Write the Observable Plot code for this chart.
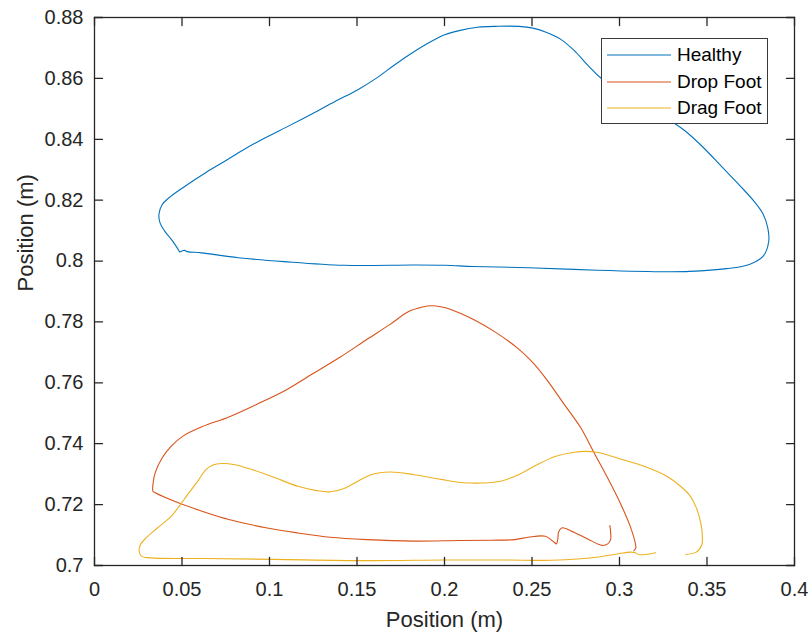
<!DOCTYPE html>
<html>
<head>
<meta charset="utf-8">
<script src="https://cdn.jsdelivr.net/npm/d3@7"></script>
<script src="https://cdn.jsdelivr.net/npm/@observablehq/plot@0.6"></script>
<style>
  html, body { margin: 0; padding: 0; background: #fff; }
  #wrap { position: relative; width: 808px; height: 638px; font-family: "Liberation Sans", Arial, sans-serif; }
  #legend { position: absolute; background: #fff; border: 1px solid #3a3a3a; box-sizing: border-box; }
  .row { display: flex; align-items: center; height: 26.7px; white-space: nowrap; }
  .row span { font-size: 19px; color: #000; margin-left: 6px; white-space: nowrap; }
</style>
</head>
<body>
<div id="wrap"></div>
<script>
const seriesNames = ["Healthy", "Drop Foot", "Drag Foot"];
const seriesColors = ["#0072BD", "#D95319", "#EDB120"];

const healthyX = [0.0487,0.0515,0.0530,0.0611,0.0821,0.1084,0.1426,0.1821,0.2005,0.2163,0.2479,0.2874,0.3268,0.3400,0.3611,0.3742,0.3821,0.3853,0.3847,0.3821,0.3768,0.3689,0.3584,0.3479,0.3374,0.3308,0.3110,0.2900,0.2821,0.2742,0.2663,0.2584,0.2505,0.2426,0.2295,0.2189,0.2084,0.2005,0.1926,0.1821,0.1716,0.1611,0.1505,0.1374,0.1242,0.1111,0.0979,0.0847,0.0742,0.0637,0.0505,0.0426,0.0387,0.0368,0.0374,0.0400,0.0439,0.0466,0.0487];
const healthyY = [0.8030,0.8035,0.8031,0.8027,0.8011,0.7998,0.7986,0.7987,0.7986,0.7982,0.7978,0.7970,0.7965,0.7966,0.7975,0.7989,0.8016,0.8066,0.8110,0.8154,0.8197,0.8247,0.8310,0.8373,0.8428,0.8455,0.8526,0.8598,0.8642,0.8691,0.8729,0.8751,0.8765,0.8771,0.8771,0.8768,0.8757,0.8744,0.8722,0.8686,0.8645,0.8601,0.8563,0.8524,0.8483,0.8444,0.8406,0.8364,0.8327,0.8291,0.8241,0.8208,0.8186,0.8153,0.8126,0.8099,0.8071,0.8049,0.8030];

const dropX = [0.2945,0.2950,0.2949,0.2933,0.2901,0.2815,0.2739,0.2672,0.2652,0.2648,0.2640,0.2625,0.2577,0.2479,0.2400,0.2268,0.2084,0.1821,0.1558,0.1347,0.1163,0.0979,0.0768,0.0611,0.0479,0.0347,0.0334,0.0334,0.0347,0.0387,0.0439,0.0505,0.0611,0.0768,0.0926,0.1084,0.1242,0.1400,0.1558,0.1689,0.1795,0.1874,0.1926,0.1979,0.2032,0.2163,0.2295,0.2426,0.2505,0.2587,0.2682,0.2777,0.2853,0.2930,0.3006,0.3063,0.3091,0.3093,0.3082];
const dropY = [0.7131,0.7105,0.7085,0.7071,0.7066,0.7088,0.7109,0.7124,0.7110,0.7090,0.7071,0.7077,0.7096,0.7093,0.7085,0.7083,0.7082,0.7080,0.7085,0.7093,0.7107,0.7124,0.7151,0.7179,0.7206,0.7239,0.7244,0.7266,0.7305,0.7354,0.7392,0.7425,0.7455,0.7488,0.7529,0.7573,0.7628,0.7683,0.7743,0.7792,0.7834,0.7849,0.7853,0.7850,0.7842,0.7809,0.7765,0.7710,0.7666,0.7608,0.7531,0.7454,0.7372,0.7290,0.7203,0.7126,0.7071,0.7057,0.7049];

const dragX = [0.3206,0.3149,0.3110,0.3085,0.3063,0.2987,0.2880,0.2777,0.2611,0.2347,0.2005,0.1558,0.1032,0.0637,0.0321,0.0268,0.0255,0.0263,0.0295,0.0361,0.0439,0.0492,0.0532,0.0584,0.0637,0.0676,0.0729,0.0795,0.0900,0.1032,0.1163,0.1268,0.1347,0.1426,0.1505,0.1584,0.1689,0.1821,0.1979,0.2111,0.2216,0.2321,0.2426,0.2532,0.2637,0.2742,0.2800,0.2880,0.3005,0.3137,0.3268,0.3347,0.3400,0.3439,0.3466,0.3474,0.3471,0.3439,0.3379];
const dragY = [0.7042,0.7036,0.7036,0.7043,0.7044,0.7038,0.7028,0.7022,0.7017,0.7018,0.7018,0.7016,0.7020,0.7023,0.7025,0.7031,0.7047,0.7069,0.7091,0.7124,0.7162,0.7201,0.7233,0.7272,0.7315,0.7330,0.7335,0.7332,0.7315,0.7288,0.7260,0.7246,0.7242,0.7253,0.7277,0.7299,0.7307,0.7299,0.7283,0.7272,0.7271,0.7277,0.7299,0.7332,0.7359,0.7372,0.7375,0.7371,0.7350,0.7327,0.7294,0.7261,0.7231,0.7190,0.7135,0.7091,0.7069,0.7044,0.7036];

const xTicks = [0, 0.05, 0.1, 0.15, 0.2, 0.25, 0.3, 0.35, 0.4];
const xTickLabels = ["0", "0.05", "0.1", "0.15", "0.2", "0.25", "0.3", "0.35", "0.4"];
const yTicks = [0.7, 0.72, 0.74, 0.76, 0.78, 0.8, 0.82, 0.84, 0.86, 0.88];
const yTickLabels = ["0.7", "0.72", "0.74", "0.76", "0.78", "0.8", "0.82", "0.84", "0.86", "0.88"];
const xLabel = "Position (m)";
const yLabel = "Position (m)";

const xs = [healthyX, dropX, dragX];
const ys = [healthyY, dropY, dragY];
const rows = [];
seriesNames.forEach((name, i) => xs[i].forEach((x, j) => rows.push({series: name, x, y: ys[i][j]})));

const ink = "#262626";
const tickShape = {draw(ctx, l) { ctx.moveTo(0, 0); ctx.lineTo(0, -l); }};
const tickOpts = {length: 8, anchor: "start", shape: tickShape, stroke: ink, strokeWidth: 1.3};

const chart = Plot.plot({
  width: 808, height: 638,
  marginLeft: 94, marginRight: 14, marginTop: 17, marginBottom: 73,
  style: {fontFamily: '"Liberation Sans", Arial, sans-serif', fontSize: "20px", color: ink, background: "#fff"},
  x: {domain: [0, 0.4]},
  y: {domain: [0.7, 0.88]},
  color: {domain: seriesNames, range: seriesColors},
  marks: [
    Plot.line(rows, {x: "x", y: "y", z: "series", stroke: "series", strokeWidth: 1.1, curve: "catmull-rom"}),
    Plot.frame({stroke: ink, strokeWidth: 1.3}),
    Plot.vectorX(xTicks, {x: d => d, frameAnchor: "bottom", rotate: 0, ...tickOpts}),
    Plot.vectorX(xTicks, {x: d => d, frameAnchor: "top", rotate: 180, ...tickOpts}),
    Plot.vectorY(yTicks, {y: d => d, frameAnchor: "left", rotate: 90, ...tickOpts}),
    Plot.vectorY(yTicks, {y: d => d, frameAnchor: "right", rotate: -90, ...tickOpts}),
    Plot.axisX({ticks: xTicks, tickFormat: d => xTickLabels[xTicks.indexOf(d)], tickSize: 0, tickPadding: 16, label: null, fill: ink}),
    Plot.axisY({ticks: yTicks, tickFormat: d => yTickLabels[yTicks.indexOf(d)], tickSize: 0, tickPadding: 11, label: null, fill: ink}),
    Plot.text([xLabel], {text: d => d, frameAnchor: "bottom", dy: 54, fontSize: 22, lineAnchor: "middle", fill: ink}),
    Plot.text([yLabel], {text: d => d, frameAnchor: "left", dx: -69, rotate: -90, fontSize: 22, lineAnchor: "middle", fill: ink})
  ]
});

const wrap = document.getElementById("wrap");
wrap.appendChild(chart);

const legend = document.createElement("div");
legend.id = "legend";
legend.style.left = "601px";
legend.style.top = "38px";
legend.style.width = "167px";
legend.style.height = "86px";
legend.style.paddingTop = "2.6px";
seriesNames.forEach((name, i) => {
  const row = document.createElement("div");
  row.className = "row";
  row.innerHTML = `<svg width="64" height="4" style="margin-left:5px;flex:none"><line x1="0" x2="64" y1="2" y2="2" stroke="${seriesColors[i]}" stroke-width="1.2"/></svg><span>${name}</span>`;
  legend.appendChild(row);
});
wrap.appendChild(legend);
</script>
</body>
</html>
